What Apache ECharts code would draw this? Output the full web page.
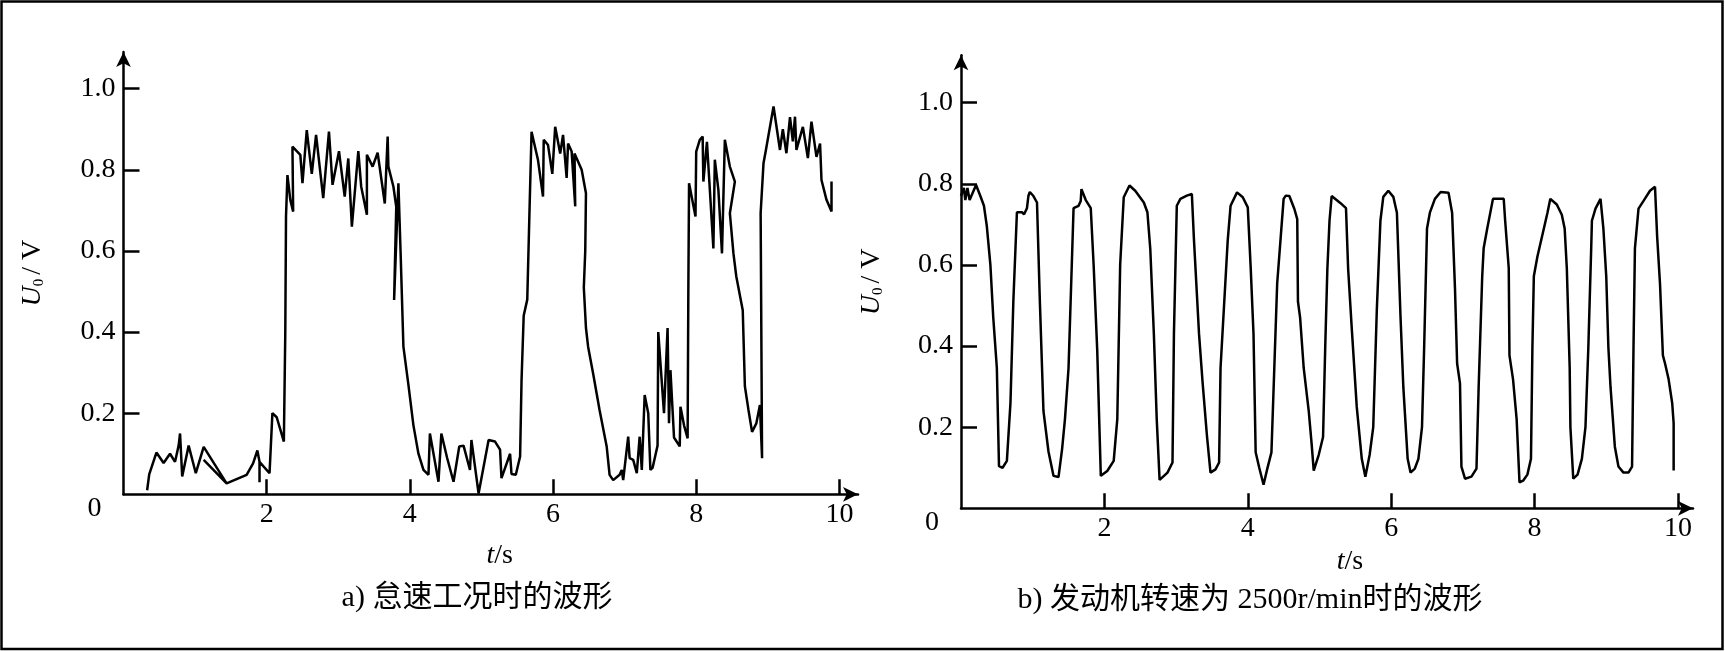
<!DOCTYPE html>
<html>
<head>
<meta charset="utf-8">
<script src="https://cdn.jsdelivr.net/npm/echarts@6/dist/echarts.min.js"></script>
<style>
html,body{margin:0;padding:0;background:#fff;}
#c{width:1725px;height:651px;}
</style>
</head>
<body>
<div id="c"></div>
<script>
// ---- data ----
const xTicks = [2, 4, 6, 8, 10];
const yTicks = [0, 0.2, 0.4, 0.6, 0.8, 1.0];
const captionA = 'a) 怠速工况时的波形';
const captionB = 'b) 发动机转速为 2500r/min时的波形';

// a) idle waveform
const idleT = [0.33,0.36,0.46,0.56,0.65,0.72,0.77,0.79,0.82,0.91,1.01,1.12,1.44,1.12,1.44,1.72,1.81,1.87,1.90,1.90,1.90,2.04,2.08,2.14,2.19,2.24,2.26,2.27,2.29,2.33,2.37,2.36,2.47,2.50,2.56,2.63,2.69,2.79,2.87,2.92,3.01,3.09,3.14,3.19,3.28,3.32,3.40,3.40,3.48,3.55,3.65,3.69,3.70,3.77,3.81,3.78,3.84,3.87,3.91,3.98,4.05,4.12,4.19,4.26,4.28,4.40,4.44,4.52,4.61,4.69,4.75,4.84,4.86,4.96,5.10,5.19,5.26,5.28,5.40,5.42,5.48,5.54,5.56,5.59,5.64,5.67,5.70,5.79,5.86,5.87,5.93,5.99,6.03,6.10,6.14,6.19,6.21,6.26,6.31,6.30,6.40,6.46,6.45,6.43,6.46,6.49,6.56,6.65,6.75,6.79,6.84,6.93,6.96,6.98,7.05,7.07,7.12,7.17,7.21,7.24,7.28,7.33,7.36,7.39,7.46,7.47,7.55,7.60,7.62,7.64,7.69,7.77,7.78,7.83,7.88,7.89,7.90,7.99,8.00,8.05,8.09,8.10,8.15,8.24,8.26,8.31,8.36,8.40,8.47,8.54,8.47,8.52,8.56,8.65,8.68,8.73,8.78,8.84,8.89,8.92,8.90,8.94,8.97,9.08,9.17,9.21,9.26,9.31,9.35,9.38,9.40,9.49,9.56,9.61,9.68,9.73,9.75,9.82,9.89,9.89];
const idleV = [0.01,0.05,0.103,0.077,0.1,0.08,0.12,0.15,0.044,0.12,0.052,0.117,0.027,0.085,0.027,0.048,0.076,0.108,0.08,0.03,0.08,0.052,0.2,0.19,0.16,0.13,0.4,0.685,0.787,0.726,0.697,0.857,0.837,0.767,0.898,0.79,0.886,0.73,0.894,0.763,0.846,0.734,0.828,0.66,0.846,0.759,0.689,0.837,0.808,0.842,0.717,0.882,0.808,0.759,0.709,0.479,0.767,0.6,0.364,0.27,0.17,0.10,0.06,0.048,0.15,0.031,0.15,0.09,0.031,0.118,0.12,0.06,0.134,0.002,0.134,0.13,0.11,0.04,0.10,0.05,0.048,0.093,0.28,0.44,0.48,0.69,0.894,0.824,0.734,0.874,0.861,0.79,0.906,0.84,0.886,0.78,0.865,0.845,0.71,0.84,0.80,0.742,0.6,0.51,0.41,0.364,0.298,0.208,0.117,0.048,0.035,0.048,0.06,0.035,0.142,0.089,0.085,0.052,0.142,0.06,0.245,0.20,0.06,0.065,0.12,0.40,0.20,0.41,0.175,0.306,0.14,0.118,0.216,0.17,0.138,0.5,0.767,0.685,0.845,0.874,0.882,0.771,0.869,0.606,0.825,0.75,0.594,0.874,0.808,0.771,0.693,0.594,0.537,0.454,0.266,0.208,0.154,0.175,0.22,0.089,0.693,0.816,0.845,0.956,0.849,0.9,0.841,0.93,0.87,0.931,0.849,0.906,0.829,0.919,0.832,0.865,0.775,0.726,0.697,0.771];

// b) 2500 r/min waveform
const rpmT = [0.0,0.04,0.06,0.09,0.12,0.21,0.27,0.32,0.36,0.41,0.45,0.50,0.53,0.58,0.64,0.69,0.73,0.78,0.85,0.88,0.92,0.94,0.96,1.01,1.06,1.10,1.15,1.22,1.29,1.36,1.41,1.45,1.50,1.57,1.64,1.67,1.68,1.74,1.81,1.85,1.90,1.95,2.04,2.13,2.18,2.22,2.27,2.35,2.43,2.55,2.60,2.64,2.69,2.73,2.77,2.88,2.95,2.97,3.01,3.06,3.15,3.22,3.25,3.32,3.37,3.43,3.48,3.55,3.60,3.62,3.72,3.76,3.85,3.93,4.00,4.04,4.08,4.11,4.16,4.22,4.27,4.33,4.37,4.41,4.46,4.50,4.53,4.58,4.65,4.69,4.70,4.73,4.78,4.85,4.89,4.92,4.99,5.05,5.08,5.11,5.14,5.17,5.29,5.37,5.40,5.45,5.52,5.59,5.64,5.70,5.75,5.80,5.85,5.89,5.96,6.03,6.08,6.13,6.17,6.23,6.27,6.33,6.38,6.43,6.46,6.50,6.54,6.61,6.69,6.80,6.85,6.89,6.92,6.96,6.98,7.03,7.12,7.19,7.22,7.27,7.29,7.34,7.42,7.57,7.59,7.64,7.65,7.70,7.75,7.79,7.84,7.90,7.95,7.97,7.99,8.04,8.13,8.18,8.22,8.31,8.38,8.42,8.45,8.49,8.50,8.54,8.60,8.66,8.71,8.75,8.79,8.80,8.85,8.92,8.96,9.00,9.03,9.06,9.12,9.17,9.24,9.31,9.36,9.38,9.40,9.45,9.52,9.61,9.68,9.71,9.75,9.79,9.82,9.87,9.92,9.94,9.94];
const rpmV = [0.77,0.79,0.76,0.79,0.76,0.797,0.77,0.746,0.696,0.6,0.47,0.346,0.104,0.1,0.117,0.26,0.51,0.73,0.73,0.725,0.74,0.77,0.78,0.77,0.754,0.51,0.24,0.14,0.08,0.077,0.146,0.22,0.346,0.74,0.746,0.758,0.787,0.76,0.74,0.6,0.39,0.08,0.092,0.117,0.22,0.6,0.767,0.796,0.783,0.754,0.73,0.64,0.43,0.22,0.07,0.088,0.113,0.43,0.746,0.763,0.771,0.775,0.66,0.43,0.31,0.18,0.088,0.096,0.113,0.346,0.66,0.746,0.779,0.767,0.742,0.596,0.43,0.138,0.1,0.058,0.096,0.138,0.346,0.554,0.67,0.763,0.771,0.77,0.738,0.713,0.51,0.47,0.346,0.24,0.16,0.093,0.132,0.176,0.396,0.59,0.709,0.77,0.753,0.74,0.59,0.445,0.25,0.122,0.078,0.132,0.20,0.49,0.709,0.768,0.783,0.768,0.729,0.474,0.298,0.122,0.088,0.098,0.122,0.20,0.396,0.69,0.729,0.763,0.78,0.778,0.729,0.543,0.357,0.308,0.103,0.073,0.078,0.098,0.298,0.572,0.641,0.69,0.763,0.763,0.709,0.592,0.377,0.318,0.22,0.064,0.068,0.083,0.122,0.396,0.572,0.621,0.69,0.729,0.763,0.749,0.724,0.69,0.592,0.347,0.20,0.073,0.083,0.122,0.20,0.396,0.641,0.709,0.739,0.763,0.69,0.572,0.396,0.298,0.152,0.103,0.088,0.088,0.103,0.396,0.641,0.739,0.758,0.783,0.793,0.67,0.553,0.377,0.357,0.318,0.259,0.21,0.093];

// ---- chart ----
const SERIF = '"Liberation Serif", "Times New Roman", serif';
const CAPFONT = '"Liberation Serif", "Noto Sans CJK SC", serif';
const BLACK = '#000';

function xAxisCfg(gridIndex, max, nameGap, namePadLeft) {
  return {
    type: 'value', gridIndex: gridIndex, min: 0, max: max, interval: 2,
    name: '{i|t}/s', nameLocation: 'middle', nameGap: nameGap,
    nameTextStyle: { color: BLACK, fontFamily: SERIF, fontSize: 28, padding: [0, 0, 0, namePadLeft],
      rich: { i: { fontStyle: 'italic', fontFamily: SERIF, fontSize: 28, color: BLACK } } },
    axisLine: { show: true, onZero: false, symbol: ['none', 'arrow'], symbolSize: [11, 15],
      lineStyle: { color: BLACK, width: 2.5 } },
    axisTick: { show: true, inside: true, length: 15, customValues: xTicks,
      lineStyle: { color: BLACK, width: 2.5 } },
    axisLabel: { show: true, customValues: xTicks, margin: 6, color: BLACK, fontFamily: SERIF, fontSize: 28,
      formatter: function (v) { return String(Math.round(v)); } },
    splitLine: { show: false }
  };
}
function yAxisCfg(gridIndex, max, nameGap) {
  const tickVals = yTicks.filter(function (v) { return v > 0; });
  return {
    type: 'value', gridIndex: gridIndex, min: 0, max: max, interval: 0.2,
    name: '{i|U}{s|0}/ V', nameLocation: 'middle', nameGap: nameGap, nameRotate: 90,
    nameTextStyle: { color: BLACK, fontFamily: SERIF, fontSize: 28,
      rich: {
        i: { fontStyle: 'italic', fontFamily: SERIF, fontSize: 28, color: BLACK },
        s: { fontFamily: SERIF, fontSize: 15, color: BLACK, verticalAlign: 'bottom', padding: [0, 4, 0, 0] }
      } },
    axisLine: { show: true, onZero: false, symbol: ['none', 'arrow'], symbolSize: [11, 15],
      lineStyle: { color: BLACK, width: 2.5 } },
    axisTick: { show: true, inside: true, length: 16, customValues: tickVals,
      lineStyle: { color: BLACK, width: 2.5 } },
    axisLabel: { show: true, customValues: yTicks, margin: 8, color: BLACK, fontFamily: SERIF, fontSize: 28,
      formatter: function (v) { return v === 0 ? '{o|0}' : v.toFixed(1); },
      rich: { o: { fontFamily: SERIF, fontSize: 28, color: BLACK, padding: [28, 14, 0, 0] } } },
    splitLine: { show: false }
  };
}
function pairs(ts, vs) { return ts.map(function (t, i) { return [t, vs[i]]; }); }

const chart = echarts.init(document.getElementById('c'), null, { renderer: 'canvas' });
chart.setOption({
  backgroundColor: '#fff',
  animation: false,
  grid: [
    { left: 123.5, top: 52, width: 734.5, height: 442.3 },
    { left: 961, top: 55.3, width: 732, height: 453 }
  ],
  xAxis: [ xAxisCfg(0, 10.26, 47, 18), xAxisCfg(1, 10.21, 33, 46) ],
  yAxis: [ yAxisCfg(0, 1.0905, 77), yAxisCfg(1, 1.117, 75) ],
  series: [
    { type: 'line', xAxisIndex: 0, yAxisIndex: 0, data: pairs(idleT, idleV), showSymbol: false,
      lineStyle: { color: BLACK, width: 2.5 }, itemStyle: { color: BLACK } },
    { type: 'line', xAxisIndex: 1, yAxisIndex: 1, data: pairs(rpmT, rpmV), showSymbol: false,
      lineStyle: { color: BLACK, width: 2.5 }, itemStyle: { color: BLACK } }
  ],
  graphic: [
    { type: 'rect', shape: { x: 1.5, y: 1.5, width: 1721, height: 647.5 },
      style: { fill: 'none', stroke: BLACK, lineWidth: 2.5 }, silent: true },
    { type: 'text', x: 477, y: 598,
      style: { text: captionA, fill: BLACK, fontFamily: CAPFONT, fontSize: 30, align: 'center', verticalAlign: 'middle' } },
    { type: 'text', x: 1250, y: 600,
      style: { text: captionB, fill: BLACK, fontFamily: CAPFONT, fontSize: 30, align: 'center', verticalAlign: 'middle' } }
  ]
});
</script>
</body>
</html>
